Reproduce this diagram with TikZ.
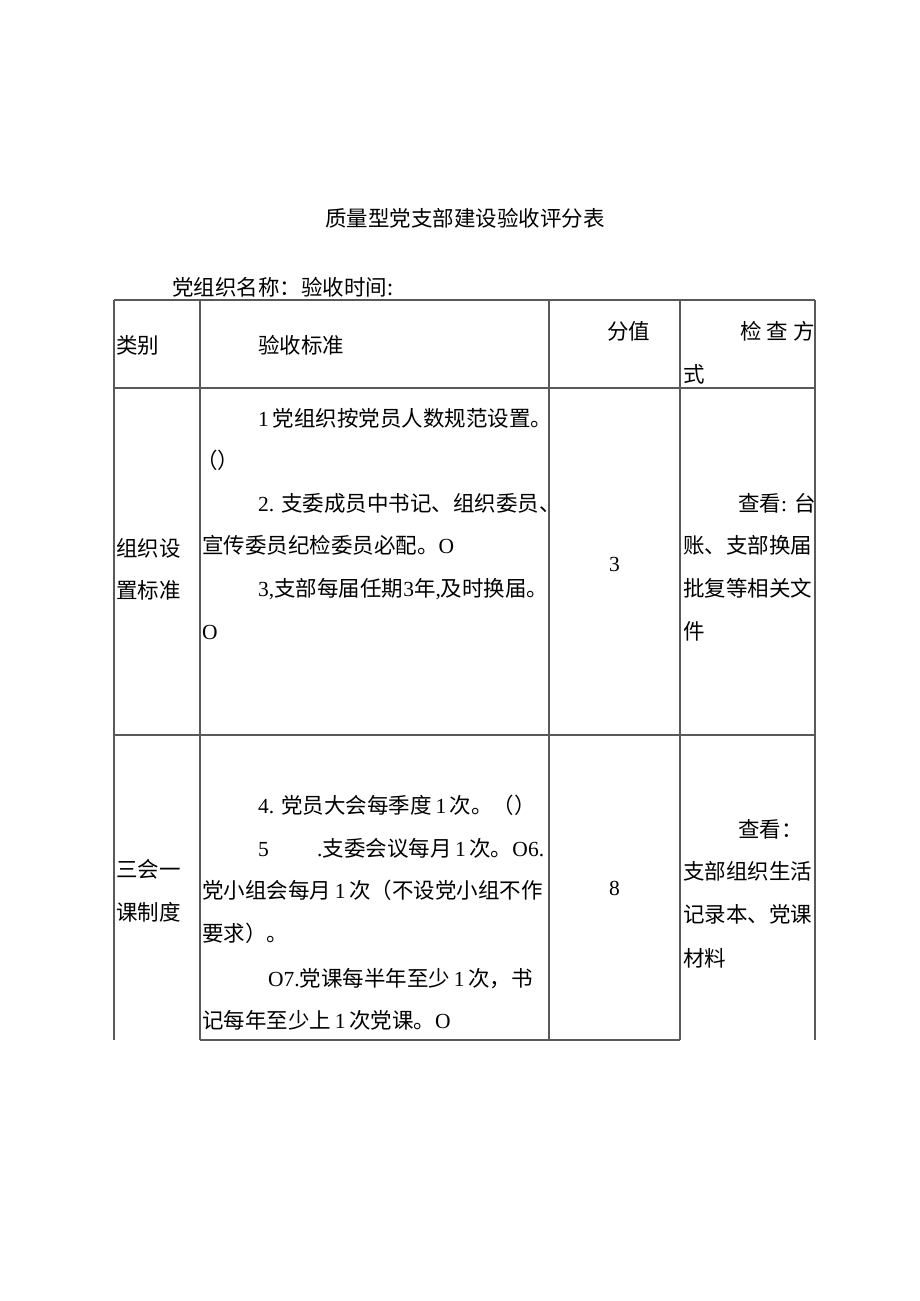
\documentclass[tikz,border=0pt]{standalone}
\usepackage{fontspec}
\setmainfont{Liberation Serif}
\newfontfamily\cjk{Noto Sans CJK SC}
\newcommand{\lat}[1]{{\rmfamily #1}}

\begin{document}
\begin{tikzpicture}[x=1pt,y=-1pt,
rule/.style={draw=black!65,line width=1.1pt},
txt/.style={anchor=base west,inner sep=0pt,font=\fontsize{21.5}{26}\selectfont\cjk},
mid/.style={anchor=base,inner sep=0pt,font=\fontsize{21.5}{26}\selectfont\cjk}]

\useasboundingbox[fill=white] (0,0) rectangle (920,1301);

% heading
\node[mid] (title) at (465,226) {质量型党支部建设验收评分表};
\node[txt] (orgname) at (172,295) {党组织名称：验收时间:};

% table rules
\draw[rule] (114,300) -- (815,300);
\draw[rule] (114,388) -- (815,388);
\draw[rule] (114,735) -- (815,735);
\draw[rule] (200,1040) -- (680,1040);
\draw[rule] (114,300) -- (114,1040);
\draw[rule] (200,300) -- (200,1040);
\draw[rule] (549,300) -- (549,1040);
\draw[rule] (680,300) -- (680,1040);
\draw[rule] (815,300) -- (815,1040);

% header row
\node[txt] (hdcat) at (116,353) {类别};
\node[txt] (hdstd) at (258,353) {验收标准};
\node[txt] (hdscore) at (607,339) {分值};
\node[txt] (hdcheck) at (740,339) {检\hspace{5pt}查\hspace{5pt}方};
\node[txt] (hdchecktail) at (683,382) {式};

% row 1
\node[txt] (catA1) at (116,556) {组织设};
\node[txt] (catA2) at (116,598) {置标准};
\node[txt] (stdA1) at (258,426) {\lat{1\,}党组织按党员人数规范设置。};
\node[txt] (stdA2) at (196,468) {（）};
\node[txt] (stdA3) at (258,511) {\lat{2. }支委成员中书记、组织委员、};
\node[txt] (stdA4) at (202,553) {宣传委员纪检委员必配。\lat{O}};
\node[txt] (stdA5) at (258,596) {\lat{3,}支部每届任期\lat{3}年\lat{,}及时换届。};
\node[txt] (stdA6) at (202,639) {\lat{O}};
\node[mid] (scoreA) at (614.5,571) {\lat{3}};
\node[txt] (chkA1) at (738,511) {查看\lat{: }台};
\node[txt] (chkA2) at (683,553) {账、支部换届};
\node[txt] (chkA3) at (683,596) {批复等相关文};
\node[txt] (chkA4) at (683,639) {件};

% row 2
\node[txt] (catB1) at (116,877) {三会一};
\node[txt] (catB2) at (116,920) {课制度};
\node[txt] (stdB1) at (258,813) {\lat{4. }党员大会每季度\lat{\,1\,}次。（）};
\node[txt] (stdB2) at (258,856) {\lat{5}};
\node[txt] (stdB3) at (317,856) {\lat{.}支委会议每月\lat{\,1\,}次。\lat{O6.}};
\node[txt] (stdB4) at (202,898) {党小组会每月\lat{\,1\,}次（不设党小组不作};
\node[txt] (stdB5) at (202,941) {要求）。};
\node[txt] (stdB6) at (268,986) {\lat{O7.}党课每半年至少\lat{\,1\,}次，书};
\node[txt] (stdB7) at (202,1028) {记每年至少上\lat{\,1\,}次党课。\lat{O}};
\node[mid] (scoreB) at (614.5,895) {\lat{8}};
\node[txt] (chkB1) at (738,837) {查看：};
\node[txt] (chkB2) at (683,879) {支部组织生活};
\node[txt] (chkB3) at (683,922) {记录本、党课};
\node[txt] (chkB4) at (683,966) {材料};

\end{tikzpicture}
\end{document}
